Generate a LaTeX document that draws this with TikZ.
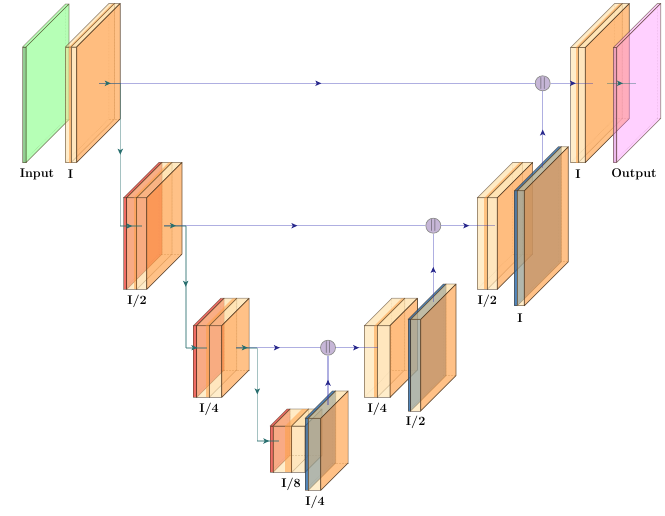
\documentclass[tikz,border=0pt]{standalone}
\usetikzlibrary{arrows.meta,decorations.markings}
\definecolor{palec}{RGB}{255,215,140}
\definecolor{orangec}{RGB}{255,160,70}
\definecolor{redc}{RGB}{235,60,50}
\definecolor{bluec}{RGB}{40,105,170}
\definecolor{greenc}{RGB}{110,255,110}
\definecolor{greendk}{RGB}{100,185,100}
\definecolor{pinkc}{RGB}{255,150,255}
\definecolor{pinkdk}{RGB}{225,140,225}
\definecolor{tealc}{RGB}{40,110,110}
\definecolor{navyc}{RGB}{40,40,140}
\definecolor{bluelinec}{RGB}{55,55,180}
\definecolor{ballc}{RGB}{198,182,215}
\definecolor{edgec}{RGB}{70,50,30}
\tikzset{
  edgeline/.style={draw=edgec,line width=0.7pt,line join=round},
  hiddenline/.style={draw=edgec,draw opacity=0.28,line width=0.5pt,densely dotted},
  tealmark/.style={postaction={decorate,decoration={markings,mark=at position #1 with {\arrow[tealc,opacity=1,line width=0pt]{Stealth[length=6pt,width=5.5pt,inset=1.5pt]}}}}},
  navymark/.style={postaction={decorate,decoration={markings,mark=at position #1 with {\arrow[navyc,opacity=1,line width=0pt]{Stealth[length=6pt,width=5.5pt,inset=1.5pt]}}}}},
  tealconn/.style={draw=tealc,draw opacity=0.42,line width=1.6pt},
  navyconn/.style={draw=bluelinec,draw opacity=0.4,line width=1.4pt},
  sumball/.style={circle,draw=black!45,line width=0.7pt,fill=ballc,text=black!75,minimum size=15pt,inner sep=0pt,font=\fontsize{12}{12}\selectfont},
  lab/.style={font=\fontsize{12.6}{14}\selectfont\bfseries,inner sep=0pt,text=black}
}
% \cube{x0}{x1}{top}{bottom}{depth}{front}{top face}{side face}{front opacity}
\newcommand{\cube}[9]{%
  \path[hiddenline] (#1,#4) -- ({#1+#5},{#4-#5}) -- ({#1+#5},{#3-#5});
  \path[hiddenline] ({#1+#5},{#4-#5}) -- ({#2+#5},{#4-#5});
  \path[fill=#6,fill opacity=#9,edgeline,draw opacity=.5] (#1,#3) rectangle (#2,#4);
  \path[fill=#7,fill opacity=\topop,edgeline,draw opacity=.5] (#1,#3) -- ({#1+#5},{#3-#5}) -- ({#2+#5},{#3-#5}) -- (#2,#3) -- cycle;
  \path[fill=#8,fill opacity=\sideop,edgeline,draw opacity=\sidedraw] (#2,#3) -- ({#2+#5},{#3-#5}) -- ({#2+#5},{#4-#5}) -- (#2,#4) -- cycle;
}
% \band{x0}{x1}{top}{bottom}{depth}
\newcommand{\band}[5]{%
  \path[fill=orangec,fill opacity=.55] (#1,#3) rectangle (#2,#4);
  \path[fill=orangec,fill opacity=.55] (#1,#3) -- ({#1+#5},{#3-#5}) -- ({#2+#5},{#3-#5}) -- (#2,#3) -- cycle;
}
\newcommand{\convin}[5]{\def\topop{.5}\def\sideop{.12}\def\sidedraw{.3}\cube{#1}{#2}{#3}{#4}{#5}{palec}{palec}{orangec}{.45}}
\newcommand{\conv}[5]{\def\topop{.55}\def\sideop{.65}\def\sidedraw{.8}\cube{#1}{#2}{#3}{#4}{#5}{palec}{palec}{orangec}{.45}}
\newcommand{\pool}[5]{\def\topop{.75}\def\sideop{.62}\def\sidedraw{.4}\cube{#1}{#2}{#3}{#4}{#5}{redc}{redc}{redc}{.75}}
\newcommand{\unpool}[5]{\def\topop{.8}\def\sideop{.65}\def\sidedraw{.4}\cube{#1}{#2}{#3}{#4}{#5}{bluec}{bluec}{bluec}{.8}}
\begin{document}
\begin{tikzpicture}[x=1pt,y=-1pt]
\useasboundingbox (0,0) rectangle (665,515);
% input
\def\topop{.5}\def\sideop{.5}\def\sidedraw{.55}
\cube{22.5}{26}{47}{162.5}{43}{greendk}{greenc}{greenc}{.7}
% encoder I
\convin{65.3}{71}{47}{162.5}{43.5}\band{69}{71}{47}{162.5}{43.5}
\conv{71}{76.7}{47}{162.5}{43.5}
% encoder I/2
\pool{123.7}{126.7}{197.7}{289.3}{35.3}
\convin{126.7}{136.7}{197.7}{289.3}{35.3}\band{133.5}{136.7}{197.7}{289.3}{35.3}
\conv{136.7}{146.7}{197.7}{289.3}{35.3}
% encoder I/4
\pool{193.3}{196.7}{325.7}{397.3}{27.4}
\convin{196.7}{209.3}{325.7}{397.3}{27.4}\band{205.5}{209.3}{325.7}{397.3}{27.4}
\conv{209.3}{221.7}{325.7}{397.3}{27.4}
% bottom I/8
\pool{270}{273}{426}{472.3}{17}
\convin{273}{291.7}{426}{472.3}{17}\band{285}{291.7}{426}{472.3}{17}
\conv{291.7}{305}{426}{472.3}{17}
% decoder, up I/4
\unpool{305}{308.3}{418.3}{490.3}{27.4}
\conv{308.3}{320.7}{418.3}{490.3}{27.4}
% decoder I/4
\convin{364.3}{377.3}{325.7}{397.3}{27.4}\band{374.3}{377.3}{325.7}{397.3}{27.4}
\conv{377.3}{390}{325.7}{397.3}{27.4}
% up I/2
\unpool{408}{410.7}{319.3}{411}{35.3}
\conv{410.7}{420.7}{319.3}{411}{35.3}
% decoder I/2
\convin{477.3}{487.3}{197.7}{289.3}{35.3}\band{484.3}{487.3}{197.7}{289.3}{35.3}
\conv{487.3}{497.3}{197.7}{289.3}{35.3}
% up I
\unpool{514.3}{517.3}{190.7}{305.7}{44}
\conv{517.3}{524.3}{190.7}{305.7}{44}
% decoder I
\convin{570.7}{578.3}{47.5}{162.5}{44}\band{575.5}{578.3}{47.5}{162.5}{44}
\conv{578.3}{585.3}{47.5}{162.5}{44}
% output
\def\topop{.45}\def\sideop{.45}\def\sidedraw{.55}
\cube{613.3}{616.7}{47.5}{162.5}{44}{pinkdk}{pinkc}{pinkc}{.6}
% labels
\node[lab] (tInput) at (37,174) {Input};
\node[lab] (tI) at (70.5,174) {I};
\node[lab] (tIb) at (137,301) {I/2};
\node[lab] (tIc) at (209,409) {I/4};
\node[lab] (tId) at (291,484) {I/8};
\node[lab] (tIe) at (315,502) {I/4};
\node[lab] (tIf) at (377.3,409) {I/4};
\node[lab] (tIg) at (415.7,422.7) {I/2};
\node[lab] (tIh) at (487.3,301.7) {I/2};
\node[lab] (tIi) at (520,318) {I};
\node[lab] (tIj) at (578,174) {I};
\node[lab] (tOut) at (634,174) {Output};
% sum balls
\node[sumball] (s1) at (328,347.7) {$||$};
\node[sumball] (s2) at (433.3,225.7) {$||$};
\node[sumball] (s3) at (542.7,83.3) {$||$};
% connector ends
\coordinate (a0) at (99,83.3);
\coordinate (a1) at (120.3,83.3);
\coordinate (a2) at (120.3,226);
\coordinate (a3) at (142,226);
\coordinate (b0) at (164,225.7);
\coordinate (b1) at (185.7,225.7);
\coordinate (b2) at (185.7,347.7);
\coordinate (b3) at (206.7,347.7);
\coordinate (c0) at (236,347.7);
\coordinate (c1) at (257.3,347.7);
\coordinate (c2) at (257.3,441);
\coordinate (c3) at (279,441);
\coordinate (d1) at (378,347.7);
\coordinate (d2) at (495,225.7);
\coordinate (d3) at (592.7,83.3);
\coordinate (e1) at (328,405);
\coordinate (e2) at (433.3,301.7);
\coordinate (e3) at (542.7,168);
\coordinate (f0) at (607,83.3);
\coordinate (f1) at (636,83.3);
% skip connections
\draw[navyconn,navymark=0.51] (a0) -- (s3);
\draw[navyconn,navymark=0.51] (b0) -- (s2);
\draw[navyconn,navymark=0.52] (c0) -- (s1);
% sum outputs and upsampling inputs
\draw[navyconn,navymark=0.55] (s1) -- (d1);
\draw[navyconn,navymark=0.52] (s2) -- (d2);
\draw[navyconn,navymark=0.6] (s3) -- (d3);
\draw[navyconn,navymark=0.51] (e1) -- (s1);
\draw[navyconn,navymark=0.51] (e2) -- (s2);
\draw[navyconn,navymark=0.5] (e3) -- (s3);
% encoder connections
\draw[tealconn,tealmark=0.55] (a0) -- (a1);
\draw[tealconn,tealmark=0.5] (a1) -- (a2);
\draw[tealconn,tealmark=0.55] (a2) -- (a3);
\draw[tealconn,tealmark=0.55] (b0) -- (b1);
\draw[tealconn,tealmark=0.5] (b1) -- (b2);
\draw[tealconn,tealmark=0.55] (b2) -- (b3);
\draw[tealconn,tealmark=0.55] (c0) -- (c1);
\draw[tealconn,tealmark=0.5] (c1) -- (c2);
\draw[tealconn,tealmark=0.55] (c2) -- (c3);
\draw[tealconn,tealmark=0.55] (f0) -- (f1);
\end{tikzpicture}
\end{document}
